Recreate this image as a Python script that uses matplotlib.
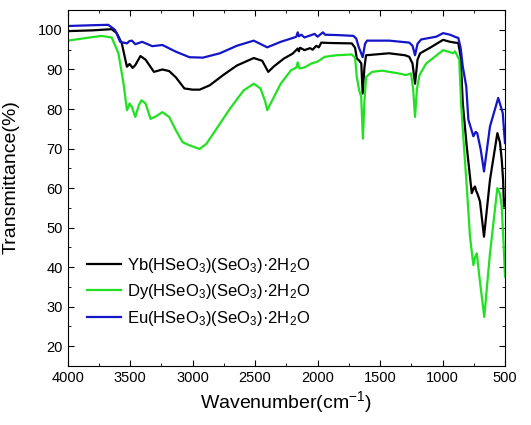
import numpy as np
import matplotlib
matplotlib.use('Agg')
import matplotlib.pyplot as plt

plt.rcParams['font.family'] = ['Liberation Sans', 'DejaVu Sans']
plt.rcParams['mathtext.default'] = 'regular'

# Yb(HSeO3)(SeO3).2H2O
yb_wn = [4000, 3800, 3648, 3607, 3567, 3526, 3505, 3480, 3459, 3418, 3377, 3310,
         3242, 3188, 3134, 3066, 3000, 2944, 2863, 2755, 2646, 2511, 2443, 2395,
         2349, 2268, 2200, 2159, 2150, 2140, 2105, 2060, 2040, 2010, 1990, 1970,
         1900, 1726, 1700, 1686, 1665, 1650, 1639, 1625, 1612, 1428, 1300, 1266,
         1240, 1220, 1200, 1179, 1100, 995, 940, 900, 874, 855, 838, 806, 766,
         750, 740, 730, 722, 710, 700, 668, 620, 561, 540, 526, 515, 508, 500]
yb_t = [99.7, 99.9, 100.2, 99.2, 96.6, 90.7, 91.4, 90.4, 91.1, 93.4, 92.5, 89.4,
        90.0, 89.6, 88.0, 85.2, 84.9, 84.9, 86.0, 88.6, 91.0, 92.9, 92.2, 89.4,
        90.8, 92.8, 94.0, 95.3, 94.6, 95.5, 94.9, 95.4, 95.0, 96.0, 95.6, 96.8,
        96.7, 96.6, 95.5, 92.8, 92.2, 91.5, 83.9, 90.5, 93.6, 94.1, 93.6, 93.2,
        91.5, 86.4, 92.5, 94.1, 95.5, 97.5, 97.0, 96.8, 96.7, 93.3, 81.5, 70.5, 58.7,
        60.0, 60.4, 59.2, 58.7, 57.6, 56.6, 47.7, 62.1, 73.9, 71.5, 67.2, 62.0, 55.3, 57.0]

# Dy(HSeO3)(SeO3).2H2O
dy_wn = [4000, 3800, 3729, 3648, 3594, 3553, 3526, 3515, 3505, 3486, 3459, 3430,
         3410, 3377, 3337, 3296, 3242, 3188, 3134, 3080, 3025, 2944, 2890, 2809,
         2701, 2592, 2511, 2457, 2420, 2403, 2376, 2295, 2213, 2170, 2159, 2145,
         2132, 2100, 2051, 2000, 1943, 1850, 1726, 1700, 1686, 1667, 1651, 1637,
         1625, 1612, 1564, 1482, 1350, 1293, 1252, 1235, 1220, 1205, 1184, 1131,
         995, 914, 900, 866, 850, 834, 806, 780, 753, 740, 726, 715, 705, 666,
         620, 561, 540, 526, 510, 500]
dy_t = [97.3, 98.2, 98.5, 98.1, 94.1, 86.4, 79.7, 80.5, 81.4, 80.5, 78.0, 81.0,
        82.2, 81.4, 77.5, 78.1, 79.2, 78.0, 74.6, 71.6, 70.8, 69.9, 71.2, 75.0,
        80.1, 84.7, 86.4, 85.2, 82.0, 79.7, 81.4, 86.4, 89.8, 90.5, 91.8, 90.3,
        90.3, 90.6, 91.5, 92.0, 93.2, 93.6, 93.8, 93.0, 88.1, 84.7, 83.1, 72.5,
        82.0, 88.1, 89.4, 89.7, 89.0, 88.6, 89.0, 85.0, 78.0, 85.0, 88.6, 91.5,
        94.9, 94.1, 94.6, 92.5, 80.7, 73.1, 60.4, 47.7, 40.5, 42.5, 43.5, 40.5, 37.6, 27.4,
        43.5, 60.0, 58.5, 55.3, 45.0, 37.6]

# Eu(HSeO3)(SeO3).2H2O
eu_wn = [4000, 3800, 3675, 3621, 3580, 3526, 3505, 3486, 3459, 3404, 3323, 3242,
         3134, 3025, 2917, 2782, 2646, 2511, 2403, 2295, 2186, 2170, 2159, 2150,
         2130, 2105, 2060, 2024, 2000, 1957, 1940, 1834, 1713, 1690, 1672, 1639,
         1620, 1604, 1428, 1266, 1240, 1220, 1200, 1171, 1050, 995, 940, 887, 874,
         855, 838, 810, 793, 753, 735, 722, 694, 668, 620, 554, 518, 500]
eu_t = [101.0, 101.2, 101.3, 100.0, 97.0, 96.6, 97.2, 97.3, 96.4, 97.0, 95.9, 96.2,
        94.5, 93.1, 93.0, 94.1, 96.0, 97.3, 95.6, 97.0, 98.1, 98.3, 99.4, 98.4,
        98.8, 98.1, 98.6, 99.0, 98.3, 99.4, 98.8, 98.7, 98.5, 97.8, 95.8, 93.1,
        96.5, 97.3, 97.3, 96.8, 96.0, 93.6, 96.5, 97.6, 98.3, 99.2, 98.8, 98.1, 98.0,
        95.5, 90.8, 85.7, 77.3, 73.1, 74.2, 73.9, 69.7, 64.2, 75.6, 82.8, 79.0, 71.4]

labels = ['Yb(HSeO$_3$)(SeO$_3$)·2H$_2$O',
          'Dy(HSeO$_3$)(SeO$_3$)·2H$_2$O',
          'Eu(HSeO$_3$)(SeO$_3$)·2H$_2$O']
colors = ['#000000', '#22e022', '#1414c8']

fig = plt.figure(figsize=(5.31, 4.25), dpi=100)
ax = fig.add_axes([0.1275, 0.139, 0.8235, 0.837])

ax.plot(yb_wn, yb_t, color=colors[0], lw=1.6, label=labels[0])
ax.plot(dy_wn, dy_t, color=colors[1], lw=1.6, label=labels[1])
ax.plot(eu_wn, eu_t, color=colors[2], lw=1.6, label=labels[2])

ax.set_xlim(4000, 500)
ax.set_ylim(15, 105)
ax.set_xticks(np.arange(4000, 499, -500))
ax.set_xticks(np.arange(3750, 500, -500), minor=True)
ax.set_yticks(np.arange(20, 101, 10))
ax.set_yticks(np.arange(25, 105, 10), minor=True)
ax.tick_params(which='both', direction='in', top=True, right=True, labelsize=10.5)
ax.tick_params(which='major', length=4)
ax.tick_params(which='minor', length=2.5)

ax.set_xlabel('Wavenumber(cm$^{-1}$)', fontsize=14, labelpad=3)
ax.set_ylabel('Transmittance(%)', fontsize=14)
ax.yaxis.set_label_coords(-0.11, 0.53)

ax.legend(loc='upper left', bbox_to_anchor=(0.045, 0.31), frameon=False,
          fontsize=12, borderpad=0, borderaxespad=0, handlelength=2.0,
          handletextpad=0.4, labelspacing=0.45)

fig.savefig('out.png', dpi=100)
